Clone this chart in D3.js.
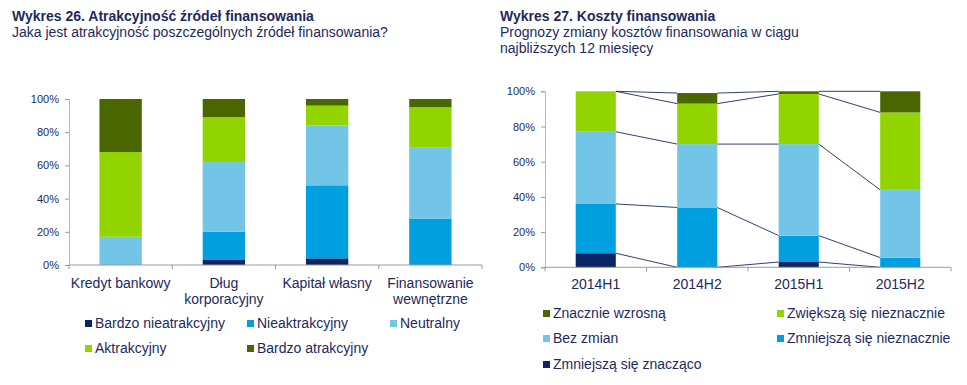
<!doctype html>
<html>
  <head>
    <meta charset="utf-8">
    <script src="https://cdn.jsdelivr.net/npm/d3@7"></script>
    <style>
      body { margin: 0; background: #fff; }
      svg text { font-family: "Liberation Sans", Arial, sans-serif; fill: #1c2a5e; }
    </style>
  </head>
  <body>
    <script>
      // --- data: wykres 26 ---
      var sources = ["Kredyt bankowy", "Dług\nkorporacyjny", "Kapitał własny", "Finansowanie\nwewnętrzne"];
      var attrSeries = ["Bardzo nieatrakcyjny", "Nieaktrakcyjny", "Neutralny", "Aktrakcyjny", "Bardzo atrakcyjny"];
      var veryUnattractive = [0, 3, 4, 0];
      var unattractive     = [0, 17, 44, 28];
      var neutral          = [17, 42, 36, 43];
      var attractive       = [51, 27, 12, 24];
      var veryAttractive   = [32, 11, 4, 5];

      // --- data: wykres 27 ---
      var periods = ["2014H1", "2014H2", "2015H1", "2015H2"];
      var costSeries = ["Zmniejszą się znacząco", "Zmniejszą się nieznacznie", "Bez zmian", "Zwiększą się nieznacznie", "Znacznie wzrosną"];
      var fallMuch   = [8, 0, 3, 0];
      var fallLittle = [28, 34, 15, 5.5];
      var noChange   = [41, 36, 52, 38.5];
      var riseLittle = [23, 23, 28.5, 44];
      var riseMuch   = [0, 6, 1.5, 12];

      var yTicks = [0, 20, 40, 60, 80, 100];
      var colors = ["#0b2566", "#009fdf", "#72c5e7", "#92d400", "#4a6600"];

      var svg = d3.select("body").append("svg")
                  .attr("width", 967)
                  .attr("height", 385);

      // titles
      function title(x, lines) {
        lines.forEach(function(l, i) {
          svg.append("text")
             .attr("x", x)
             .attr("y", 21 + i * 16)
             .attr("font-size", 14)
             .attr("font-weight", i == 0 ? "bold" : "normal")
             .text(l);
        });
      }
      title(12, ["Wykres 26. Atrakcyjność źródeł finansowania",
                 "Jaka jest atrakcyjność poszczególnych źródeł finansowania?"]);
      title(500, ["Wykres 27. Koszty finansowania",
                  "Prognozy zmiany kosztów finansowania w ciągu",
                  "najbliższych 12 miesięcy"]);

      // generic stacked bar chart
      function drawChart(opt) {
        var g = svg.append("g");
        var x = d3.scaleBand().domain(d3.range(opt.cats.length)).range([opt.x0, opt.x1]);
        var y = d3.scaleLinear().domain([0, 100]).range([opt.y0, opt.y1]);
        var barW = x.bandwidth() * opt.barFrac;
        var off = (x.bandwidth() - barW) / 2;

        // stack
        var rows = opt.cats.map(function(c, i) {
          var r = {};
          opt.values.forEach(function(v, k) { r[k] = v[i]; });
          return r;
        });
        var stack = d3.stack().keys(d3.range(opt.values.length))(rows);

        // y axis
        var yAxis = d3.axisLeft(y).tickValues(yTicks).tickSize(4).tickPadding(6)
                      .tickFormat(function(d) { return d + "%"; });
        var ya = g.append("g").attr("transform", "translate(" + opt.x0 + ",0)").call(yAxis);
        ya.select(".domain").attr("stroke", "#b8b8b8");
        ya.selectAll(".tick line").attr("stroke", "#999");
        ya.selectAll(".tick text").attr("font-size", 11).attr("font-family", null).attr("fill", "#1c2a5e");

        // series lines (behind bars)
        if (opt.seriesLines) {
          stack.forEach(function(s) {
            for (var i = 0; i < s.length - 1; i++) {
              g.append("line")
               .attr("x1", x(i) + off + barW)
               .attr("y1", y(s[i][1]))
               .attr("x2", x(i + 1) + off)
               .attr("y2", y(s[i + 1][1]))
               .attr("stroke", "#1c2a5e")
               .attr("stroke-width", 0.9);
            }
          });
        }

        // bars
        g.selectAll("g.series")
         .data(stack)
         .enter().append("g")
         .attr("fill", function(d, k) { return opt.colors[k]; })
         .selectAll("rect")
         .data(function(d) { return d; })
         .enter().append("rect")
         .attr("x", function(d, i) { return x(i) + off; })
         .attr("y", function(d) { return y(d[1]); })
         .attr("width", barW)
         .attr("height", function(d) { return y(d[0]) - y(d[1]); });

        // x axis
        g.append("line")
         .attr("x1", opt.x0).attr("x2", opt.x1)
         .attr("y1", opt.y0).attr("y2", opt.y0)
         .attr("stroke", "#999");
        var bounds = d3.range(opt.cats.length + 1);
        g.selectAll("line.xt")
         .data(bounds)
         .enter().append("line")
         .attr("x1", function(d) { return opt.x0 + d * x.step(); })
         .attr("x2", function(d) { return opt.x0 + d * x.step(); })
         .attr("y1", opt.y0).attr("y2", opt.y0 + 4)
         .attr("stroke", "#999");

        // category labels
        opt.cats.forEach(function(c, i) {
          c.split("\n").forEach(function(l, j) {
            g.append("text")
             .attr("x", x(i) + x.bandwidth() / 2)
             .attr("y", opt.labelY + j * 16)
             .attr("text-anchor", "middle")
             .attr("font-size", 14)
             .text(l);
          });
        });

        // legend
        opt.legend.forEach(function(it) {
          g.append("rect")
           .attr("x", it.x).attr("y", it.y - 8)
           .attr("width", 7).attr("height", 7)
           .attr("fill", opt.colors[it.k]);
          g.append("text")
           .attr("x", it.x + 10).attr("y", it.y)
           .attr("font-size", 14)
           .text(opt.names[it.k]);
        });
      }

      drawChart({
        cats: sources,
        values: [veryUnattractive, unattractive, neutral, attractive, veryAttractive],
        names: attrSeries,
        colors: colors,
        x0: 69, x1: 482, y0: 265, y1: 99,
        barFrac: 0.41,
        labelY: 287.5,
        seriesLines: false,
        legend: [
          {k: 0, x: 85, y: 328}, {k: 1, x: 247, y: 328}, {k: 2, x: 390, y: 328},
          {k: 3, x: 85, y: 353}, {k: 4, x: 247, y: 353}
        ]
      });

      drawChart({
        cats: periods,
        values: [fallMuch, fallLittle, noChange, riseLittle, riseMuch],
        names: costSeries,
        colors: colors,
        x0: 545, x1: 951, y0: 267.3, y1: 91.3,
        barFrac: 0.395,
        labelY: 289,
        seriesLines: true,
        legend: [
          {k: 4, x: 543, y: 318}, {k: 3, x: 777, y: 318},
          {k: 2, x: 543, y: 343}, {k: 1, x: 777, y: 343},
          {k: 0, x: 543, y: 369}
        ]
      });
    </script>
  </body>
</html>
